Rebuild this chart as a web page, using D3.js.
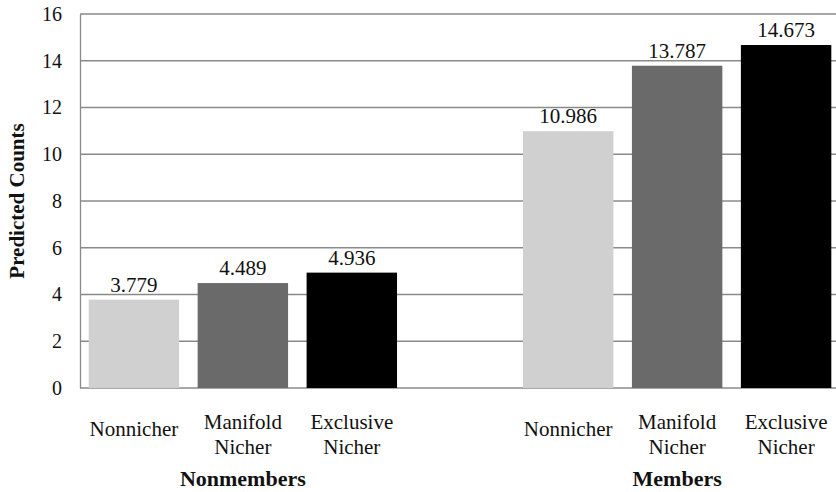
<!DOCTYPE html>
<html>
<head>
<meta charset="utf-8">
<script src="https://cdn.jsdelivr.net/npm/d3@7"></script>
<style>
  body { margin: 0; background: #fff; }
  svg text { font-family: "Times New Roman", "Liberation Serif", Tinos, "DejaVu Serif", serif; fill: #111; }
</style>
</head>
<body>
<div id="chart"></div>
<script>
// data
const groups = ["Nonmembers", "Members"];
const series = ["Nonnicher", "Manifold Nicher", "Exclusive Nicher"];
const seriesLines = [["Nonnicher"], ["Manifold", "Nicher"], ["Exclusive", "Nicher"]];
const nonmembersValues = [3.779, 4.489, 4.936];
const membersValues = [10.986, 13.787, 14.673];
const yTicks = [0, 2, 4, 6, 8, 10, 12, 14, 16];
const colors = ["#d0d0d0", "#6a6a6a", "#000000"];

const data = [
  {group: "Nonmembers", values: nonmembersValues},
  {group: "Members", values: membersValues}
];

const serif = "'Times New Roman', 'Liberation Serif', Tinos, 'DejaVu Serif', serif";

const W = 836, H = 492;
const margin = {top: 14, right: 0, bottom: 104, left: 80};
const width = W - margin.left - margin.right,
      height = H - margin.top - margin.bottom;

const svg = d3.select("#chart")
  .append("svg")
    .attr("width", W)
    .attr("height", H)
    .attr("font-family", serif)
  .append("g")
    .attr("transform", `translate(${margin.left},${margin.top})`);

const y = d3.scaleLinear().domain([0, 16]).range([height, 0]);

const x0 = d3.scaleBand()
  .domain(groups)
  .range([0, width + 4])
  .paddingInner(0.29)
  .paddingOuter(0.02);

const x1 = d3.scaleBand()
  .domain(series)
  .range([0, x0.bandwidth()])
  .paddingInner(0.17)
  .paddingOuter(0);

// gridlines
svg.append("g")
  .selectAll("line")
  .data(yTicks)
  .join("line")
    .attr("x1", 0)
    .attr("x2", width)
    .attr("y1", d => y(d))
    .attr("y2", d => y(d))
    .attr("stroke", "#8a8a8a")
    .attr("stroke-width", 1.3);

// y axis
const yAxis = svg.append("g")
  .call(d3.axisLeft(y).tickValues(yTicks).tickSize(0).tickPadding(18))
  .attr("font-family", serif);
yAxis.select(".domain").attr("stroke", "#8a8a8a").attr("stroke-width", 1.3);
yAxis.selectAll("text")
  .style("font-family", serif)
  .style("font-size", "20px")
  .attr("fill", "#111");

// bars
const gGroups = svg.append("g")
  .selectAll("g")
  .data(data)
  .join("g")
    .attr("transform", d => `translate(${x0(d.group)},0)`);

gGroups.selectAll("rect")
  .data(d => d.values.map((v, i) => ({s: series[i], v: v, i: i})))
  .join("rect")
    .attr("x", d => x1(d.s))
    .attr("y", d => y(d.v))
    .attr("width", x1.bandwidth())
    .attr("height", d => height - y(d.v))
    .attr("fill", d => colors[d.i]);

// value labels
gGroups.selectAll("text.val")
  .data(d => d.values.map((v, i) => ({s: series[i], v: v})))
  .join("text")
    .attr("class", "val")
    .attr("x", d => x1(d.s) + x1.bandwidth() / 2)
    .attr("y", d => y(d.v) - 8)
    .attr("text-anchor", "middle")
    .style("font-family", serif)
    .style("font-size", "21px")
    .text(d => d3.format(".3f")(d.v));

// category labels
gGroups.selectAll("text.cat")
  .data(series.map((s, i) => ({s: s, lines: seriesLines[i]})))
  .join("text")
    .attr("class", "cat")
    .attr("x", d => x1(d.s) + x1.bandwidth() / 2)
    .attr("y", d => d.lines.length === 1 ? height + 48 : height + 41)
    .attr("text-anchor", "middle")
    .style("font-family", serif)
    .style("font-size", "21px")
    .each(function(d) {
      d3.select(this).selectAll("tspan")
        .data(d.lines)
        .join("tspan")
          .attr("x", x1(d.s) + x1.bandwidth() / 2)
          .attr("dy", (l, j) => j === 0 ? 0 : 25)
          .text(l => l);
    });

// group labels
svg.append("g")
  .selectAll("text")
  .data(groups)
  .join("text")
    .attr("x", d => x0(d) + x0.bandwidth() / 2)
    .attr("y", height + 98)
    .attr("text-anchor", "middle")
    .style("font-family", serif)
    .style("font-size", "22px")
    .style("font-weight", "bold")
    .text(d => d);

// y title
svg.append("text")
  .attr("transform", `translate(${17 - margin.left},${height / 2}) rotate(-90)`)
  .attr("text-anchor", "middle")
  .attr("dy", "0.35em")
  .style("font-family", serif)
  .style("font-size", "21px")
  .style("font-weight", "bold")
  .text("Predicted Counts");
</script>
</body>
</html>
